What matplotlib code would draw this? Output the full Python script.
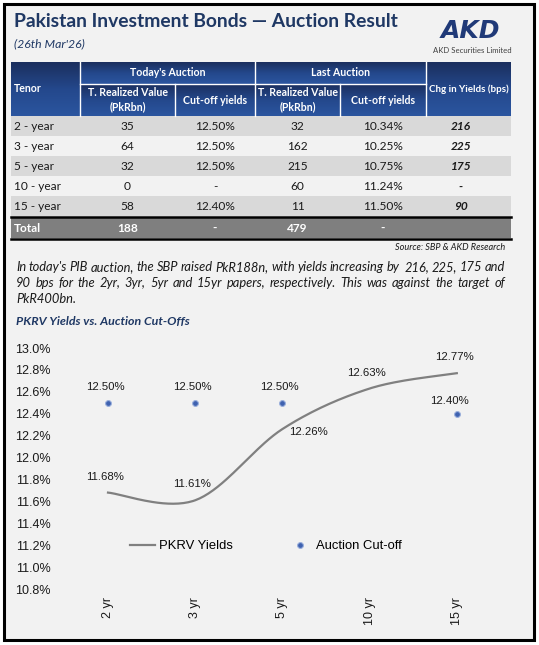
import numpy as np
import matplotlib
matplotlib.use('Agg')
import matplotlib.pyplot as plt
from matplotlib.patches import Rectangle
from matplotlib.colors import LinearSegmentedColormap

# ---- data ----
tenors = ['2 - year', '3 - year', '5 - year', '10 - year', '15 - year']
today_value = ['35', '64', '32', '0', '58']
today_cutoff = ['12.50%', '12.50%', '12.50%', '-', '12.40%']
last_value = ['32', '162', '215', '60', '11']
last_cutoff = ['10.34%', '10.25%', '10.75%', '11.24%', '11.50%']
chg_bps = ['216', '225', '175', '-', '90']
total_row = ['Total', '188', '-', '479', '-', '']

chart_cats = ['2 yr', '3 yr', '5 yr', '10 yr', '15 yr']
pkrv = [11.68, 11.61, 12.26, 12.63, 12.77]
cutoff = [12.50, 12.50, 12.50, np.nan, 12.40]

para_lines = [
    "In today's PIB auction, the SBP raised PkR188n, with yields increasing by  216, 225, 175 and",
    "90 bps for the 2yr, 3yr, 5yr and 15yr papers, respectively. This was against the target of",
    "PkR400bn.",
]

NAVY = '#1f3864'
BG = '#f2f2f2'
W, H = 539, 645

fig = plt.figure(figsize=(W / 100, H / 100), dpi=100)
fig.patch.set_facecolor('white')

# overlay in pixel coordinates
ov = fig.add_axes([0, 0, 1, 1])
ov.axis('off')

ov.add_patch(Rectangle((4, 4), 530, 636, facecolor=BG, edgecolor='black', lw=2.2, zorder=0))

# title
ov.text(14, 27, 'Pakistan Investment Bonds \u2014 Auction Result', fontsize=13.9, fontweight='bold',
        color=NAVY, family='Lato', va='baseline')
ov.text(14, 47, "(26th Mar'26)", fontsize=8.8, style='italic', color=NAVY, family='Lato', va='baseline')

# logo
ov.text(470, 38, 'AKD', fontsize=18, fontweight='bold', style='italic', color='#203a78',
        family='DejaVu Sans', ha='center', va='baseline')
ov.text(472, 53, 'AKD Securities Limited', fontsize=5.6, color='#404040', family='Lato',
        ha='center', va='baseline')

# ---- table ----
grad = np.linspace(0, 1, 50).reshape(-1, 1)
hdr_cmap = LinearSegmentedColormap.from_list('hdr', ['#1b2f5e', '#24488c', '#2b559f'])


def hdr_cell(x0, x1, y0, y1):
    ov.imshow(grad, extent=(x0, x1, y1, y0), cmap=hdr_cmap, aspect='auto', zorder=1)


hdr_cell(11, 80, 62, 116)
hdr_cell(80, 255, 62, 84)
hdr_cell(255, 426, 62, 84)
hdr_cell(426, 511, 62, 116)
for a, b in [(80, 175), (175, 255), (255, 340), (340, 426)]:
    hdr_cell(a, b, 84, 116)
ov.set_xlim(0, W)
ov.set_ylim(H, 0)
# white separators
for x in [80, 255, 426]:
    ov.plot([x, x], [62, 116], color='white', lw=1, zorder=2)
for x in [175, 340]:
    ov.plot([x, x], [84, 116], color='white', lw=1, zorder=2)
ov.plot([80, 426], [84, 84], color='white', lw=1, zorder=2)

hkw = dict(color='white', fontweight='bold', family='Lato', fontsize=7.6, zorder=3)
ov.text(14, 89, 'Tenor', va='center', **hkw)
ov.text(167.5, 73, "Today's Auction", ha='center', va='center', **hkw)
ov.text(340.5, 73, 'Last Auction', ha='center', va='center', **hkw)
ov.text(468.5, 89, 'Chg in Yields (bps)', ha='center', va='center',
        **{**hkw, 'fontsize': 7.1})
for cx in [127.5, 297.5]:
    ov.text(cx, 93, 'T. Realized Value', ha='center', va='center', **hkw)
    ov.text(cx, 107, '(PkRbn)', ha='center', va='center', **hkw)
for cx in [215, 383]:
    ov.text(cx, 100, 'Cut-off yields', ha='center', va='center', **hkw)

centers = [127.5, 215, 297.5, 383, 461]
row_h = 20
for i, ten in enumerate(tenors):
    y0 = 116 + i * row_h
    ov.add_patch(Rectangle((11, y0), 500, row_h, facecolor='#d9d9d9' if i % 2 == 0 else BG,
                           edgecolor='none', zorder=1))
    yc = y0 + row_h / 2 + 1
    dkw = dict(fontsize=8.6, family='Lato', color='#1a1a1a', va='center', zorder=3)
    ov.text(14, yc, ten, **dkw)
    vals = [today_value[i], today_cutoff[i], last_value[i], last_cutoff[i]]
    for cx, v in zip(centers[:4], vals):
        ov.text(cx, yc, v, ha='center', **dkw)
    ov.text(centers[4], yc, chg_bps[i], ha='center', fontweight='bold', style='italic', **dkw)

ty = 116 + 5 * row_h
ov.add_patch(Rectangle((11, ty + 1), 500, 21, facecolor='#7f7f7f', edgecolor='none', zorder=1))
ov.plot([11, 511], [ty + 0.5, ty + 0.5], color='black', lw=1.8, zorder=2)
ov.plot([11, 511], [ty + 22.5, ty + 22.5], color='black', lw=1.8, zorder=2)
tkw = dict(fontsize=8.6, family='Lato', color='white', fontweight='bold', va='center', zorder=3)
ov.text(14, ty + 12, total_row[0], **tkw)
for cx, v in zip(centers, total_row[1:]):
    ov.text(cx, ty + 12, v, ha='center', **tkw)

ov.text(505, 248, 'Source: SBP & AKD Research', fontsize=6.6, style='italic', family='Lato',
        ha='right', va='center', color='#1a1a1a')

# ---- paragraph (justified) ----
renderer = fig.canvas.get_renderer()
pkw = dict(fontsize=9.3, style='italic', family='Lato', color='#1a1a1a', va='baseline')
x_left, x_right = 16, 505
for li, line in enumerate(para_lines):
    yb = 271 + li * 16
    if li == len(para_lines) - 1:
        ov.text(x_left, yb, line, **pkw)
        continue
    words = line.split(' ')
    arts = [ov.text(0, yb, w, **pkw) for w in words]
    widths = [a.get_window_extent(renderer).width for a in arts]
    gap = (x_right - x_left - sum(widths)) / (len(words) - 1)
    x = x_left
    for a, wd in zip(arts, widths):
        a.set_x(x)
        x += wd + gap

ov.text(16, 325, 'PKRV Yields vs. Auction Cut-Offs', fontsize=8.9, fontweight='bold', style='italic',
        color=NAVY, family='Lato', va='baseline')

# ---- chart ----
ax = fig.add_axes([64.4 / W, 1 - 589 / H, 436 / W, 241 / H])
ax.patch.set_alpha(0)
for s in ax.spines.values():
    s.set_visible(False)
ax.set_xlim(-0.5, 4.5)
ax.set_ylim(10.8, 13.0)
xs = np.arange(len(chart_cats))

# Excel-style smoothed line (cubic bezier, catmull-rom control points)
P = np.column_stack([xs, pkrv]).astype(float)
Pe = np.vstack([P[0], P, P[-1]])
curve = []
t = np.linspace(0, 1, 40)[:, None]
for i in range(len(P) - 1):
    p0, p1 = Pe[i + 1], Pe[i + 2]
    c1 = p0 + (Pe[i + 2] - Pe[i]) / 6
    c2 = p1 - (Pe[i + 3] - Pe[i + 1]) / 6
    seg = (1 - t) ** 3 * p0 + 3 * (1 - t) ** 2 * t * c1 + 3 * (1 - t) * t ** 2 * c2 + t ** 3 * p1
    curve.append(seg)
curve = np.vstack(curve)
ax.plot(curve[:, 0], curve[:, 1], color='#808080', lw=1.6, label='PKRV Yields')

ax.plot(xs, cutoff, 'o', ls='none', ms=4.2, color='#3f62b0', mec='#9bb0dc', mew=0.8,
        label='Auction Cut-off')

lbl = dict(fontsize=8.2, family='Liberation Sans', color='#1a1a1a', ha='center', va='center')
cut_off_pts = [(-2, 11), (-2, 11), (-2, 11), None, (-5, 9.5)]
for x, v, off in zip(xs, cutoff, cut_off_pts):
    if not np.isnan(v):
        ax.annotate(f'{v:.2f}%', (x, v), xytext=off, textcoords='offset points', **lbl)
pk_off = [(-2, 11.5), (-2, 11.5), (18.5, -2.2), (-2, 11), (-1.5, 11.5)]
for x, v, off in zip(xs, pkrv, pk_off):
    ax.annotate(f'{v:.2f}%', (x, v), xytext=off, textcoords='offset points', **lbl)

yt = np.arange(10.8, 13.01, 0.2)
ax.set_yticks(yt)
ax.set_yticklabels([f'{v:.1f}%' for v in yt])
ax.set_xticks(xs)
ax.set_xticklabels(chart_cats, rotation=90)
ax.tick_params(length=0, labelsize=9, colors='#1a1a1a')
ax.tick_params(axis='y', pad=10)
ax.tick_params(axis='x', pad=6)
for lab in ax.get_xticklabels() + ax.get_yticklabels():
    lab.set_family('Liberation Sans')

leg = ax.legend(loc='center', bbox_to_anchor=(0.462, (11.19 - 10.8) / 2.2), ncol=2, frameon=False,
                prop={'family': 'Liberation Sans', 'size': 9.4}, handlelength=1.9, handletextpad=0.3,
                columnspacing=4.2)

fig.savefig('out.png', dpi=100, facecolor='white')
